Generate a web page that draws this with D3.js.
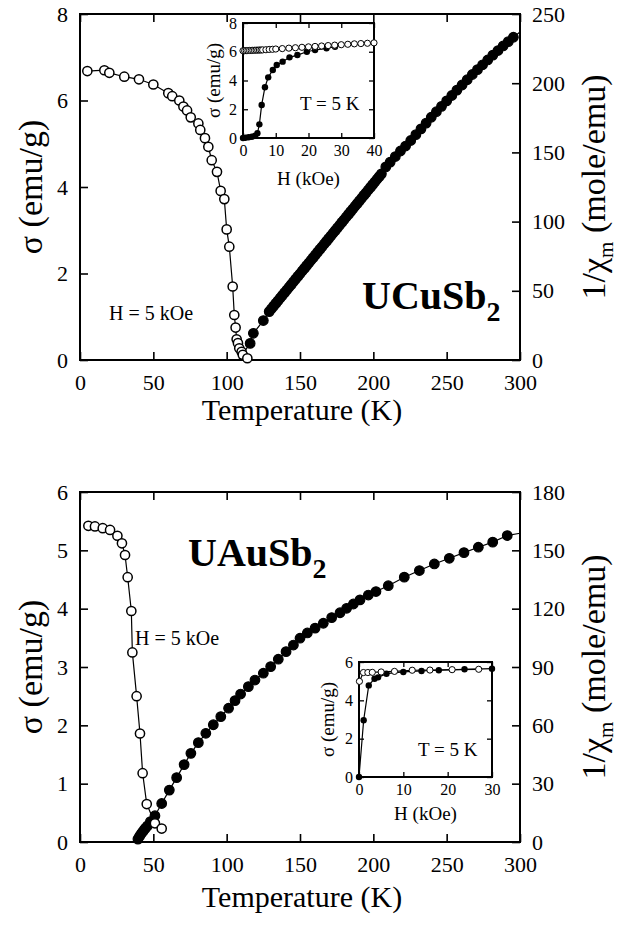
<!DOCTYPE html>
<html>
<head>
<meta charset="UTF-8">
<title>UCuSb2 / UAuSb2</title>
<script src="https://cdn.jsdelivr.net/npm/d3@7"></script>
<style>
body{margin:0;background:#fff;}
svg text{font-family:'Liberation Serif','Times New Roman',serif;fill:#000;}
.frame{fill:#fff;stroke:#000;stroke-width:2;}
.mainframe{fill:none;stroke:#000;stroke-width:2;}
.tick line{stroke:#000;stroke-width:1.6;}
.axis text{font-size:22px;}
.inset .axis text{font-size:16px;}
.inset .tick line{stroke-width:1.3;}
.fit{fill:none;stroke:#000;stroke-width:1.2;}
.big{font-size:30px;}
.ylab{font-size:34px;}
.small{font-size:19px;}
</style>
</head>
<body>
<svg id="chart" width="626" height="933"></svg>
<script>
// ---- data ----
var tempTicks = [0, 50, 100, 150, 200, 250, 300];

// UCuSb2, H = 5 kOe
var cuSigmaTicks = [0, 2, 4, 6, 8];
var cuInvTicks = [0, 50, 100, 150, 200, 250];
var cuOpenT = [5, 16.6, 20, 30.2, 40.2, 50, 60.2, 62.9, 67.7, 70.5, 73, 75.5, 80.7, 82, 85.2, 87.5, 89.8, 93.4, 95.9, 98.4, 100, 101.8, 104.1, 105.2, 106.1, 106.8, 107.7, 108.6, 110.2, 111, 114.1];
var cuOpenSigma = [6.68, 6.70, 6.64, 6.55, 6.49, 6.37, 6.17, 6.10, 6.00, 5.86, 5.77, 5.61, 5.47, 5.32, 5.13, 4.93, 4.62, 4.35, 3.91, 3.72, 3.02, 2.62, 1.70, 1.04, 0.75, 0.48, 0.39, 0.27, 0.19, 0.12, 0.04];
var cuClosedT = [116, 118.2, 125, 129, 130.5, 132, 133.5, 135, 136.5, 138, 139.5, 141, 142.5, 144, 145.5, 147, 148.5, 150, 151.5, 153, 154.5, 156, 157.5, 159, 160.5, 162, 163.5, 165, 166.5, 168, 169.5, 171, 172.5, 174, 175.5, 177, 178.5, 180, 181.5, 183, 184.5, 186, 187.5, 189, 190.5, 192, 193.5, 195, 196.5, 198, 199.5, 201, 202.5, 204, 205.5,
  208.5, 211.5, 215, 218.5, 222, 225.5, 229, 232.5, 236, 239.5, 243, 246.5, 250, 253.5, 257, 260.5, 264, 267.5, 271, 274.5, 278, 281.5, 285, 288.5, 292, 295.5];
var cuClosedInv = [12, 19.3, 28.5, 35, 37, 38.9, 40.9, 42.8, 44.8, 46.7, 48.7, 50.6, 52.6, 54.5, 56.5, 58.4, 60.4, 62.3, 64.3, 66.2, 68.2, 70.1, 72.1, 74, 76, 77.9, 79.9, 81.8, 83.8, 85.7, 87.7, 89.6, 91.6, 93.5, 95.5, 97.4, 99.4, 101.3, 103.3, 105.2, 107.2, 109.1, 111.1, 113, 115, 116.9, 118.9, 120.8, 122.8, 124.7, 126.7, 128.6, 130.6, 132.5, 134.5,
  139.5, 143, 147, 151, 154.6, 158.6, 162.8, 167, 171.2, 175.4, 179.4, 183.3, 187.2, 191.1, 195, 198.7, 202.5, 206.3, 209.8, 213.3, 216.8, 220.3, 223.6, 226.9, 230, 233.2];
var cuFitT = [108, 300];
var cuFitInv = [0, 237];

// UCuSb2 inset, T = 5 K
var cuInsetHTicks = [0, 10, 20, 30, 40];
var cuInsetSigmaTicks = [0, 2, 4, 6, 8];
var cuInsetOpenH = [0, 0.5, 1, 1.5, 2, 2.5, 3, 3.5, 4, 4.5, 5, 5.5, 6, 7, 8, 9, 10, 12, 14, 16, 18, 20, 22, 24, 26, 28, 30, 32, 34, 36, 38, 40];
var cuInsetOpenSigma = [6.07, 6.07, 6.08, 6.08, 6.09, 6.09, 6.10, 6.10, 6.11, 6.11, 6.12, 6.12, 6.13, 6.14, 6.16, 6.17, 6.19, 6.22, 6.25, 6.28, 6.31, 6.34, 6.37, 6.40, 6.43, 6.46, 6.49, 6.52, 6.55, 6.57, 6.59, 6.62];
var cuInsetClosedH = [0, 0.7, 1.7, 2.7, 3.7, 4.4, 5.0, 5.7, 6.7, 7.7, 9.1, 10.3, 12.1, 14.2, 16.6, 19.5, 22, 25.5, 28.1];
var cuInsetClosedSigma = [0, 0.02, 0.05, 0.09, 0.16, 0.33, 0.95, 2.30, 3.53, 4.22, 4.73, 5.08, 5.31, 5.61, 5.77, 6.0, 6.12, 6.24, 6.35];

// UAuSb2, H = 5 kOe
var auSigmaTicks = [0, 1, 2, 3, 4, 5, 6];
var auInvTicks = [0, 30, 60, 90, 120, 150, 180];
var auOpenT = [5.7, 10.2, 15.5, 20.5, 25.5, 28.6, 30.7, 32.5, 35, 35.7, 38.6, 40.9, 42.7, 45.5, 51.1, 55.7];
var auOpenSigma = [5.42, 5.41, 5.38, 5.35, 5.25, 5.12, 4.92, 4.54, 3.96, 3.25, 2.50, 1.86, 1.18, 0.65, 0.32, 0.23];
var auClosedT = [39.5, 40.5, 41.5, 42.5, 43.5, 44.5, 46, 48, 51.1, 55.7, 60.9, 65.9, 71, 75.6, 80.7, 85.8, 90.9, 96, 101.3, 105.7, 109.5, 114.8, 119.3, 125, 130, 135.2, 140.5, 145.5, 150, 155, 160.3, 165.9, 171.6, 177.3, 181.8, 186.4, 190.9, 196.6, 201.8, 210.2, 221.1, 231.4, 241.6, 251.8, 261.8, 271.6, 281.4, 291.3];
var auClosedInv = [1.5, 2.8, 4, 5, 6, 7, 8.3, 10.5, 13.5, 19.8, 26.7, 33.1, 39.8, 45.6, 51.1, 55.9, 60.3, 64.5, 68.8, 72.7, 76.1, 79.9, 83.3, 86.8, 90.2, 94, 97.9, 101.3, 104.8, 107.5, 110, 112.5, 115.4, 117.9, 120.2, 122.4, 124.5, 127, 128.8, 131.8, 136.2, 139.6, 143, 145.9, 148.8, 151.6, 154.2, 157.6];
var auFitT = [38.8, 300];
var auFitInv = [0, 158.8];

// UAuSb2 inset, T = 5 K
var auInsetHTicks = [0, 10, 20, 30];
var auInsetSigmaTicks = [0, 2, 4, 6];
var auInsetOpenH = [0.1, 1, 2, 3, 5, 8, 12, 16, 21, 27];
var auInsetOpenSigma = [4.99, 5.45, 5.45, 5.46, 5.48, 5.51, 5.57, 5.58, 5.60, 5.62];
var auInsetClosedH = [0, 1.05, 2.2, 3.5, 4.3, 6.2, 10, 14.1, 18, 23.8, 30];
var auInsetClosedSigma = [0, 2.96, 4.78, 5.13, 5.20, 5.39, 5.48, 5.53, 5.57, 5.62, 5.65];

var svg = d3.select("#chart");
var fmt = d3.format("~g");

function zip(a, b) {
    return a.map(function(d, i){ return [d, b[i]]; });
}

function noDomain(s) { s.select(".domain").remove(); }

function panel(o) {
    var g = svg.append("g");
    var x = d3.scaleLinear().domain([0, 300]).range([o.x0, o.x1]);
    var y = d3.scaleLinear().domain([0, o.yMax]).range([o.y1, o.y0]);
    var r = d3.scaleLinear().domain([0, o.rMax]).range([o.y1, o.y0]);

    g.append("g").attr("class", "axis").attr("transform", "translate(0," + o.y1 + ")")
        .call(d3.axisBottom(x).tickValues(tempTicks).tickFormat(fmt).tickSizeInner(-8).tickSizeOuter(0).tickPadding(14)).call(noDomain);
    g.append("g").attr("class", "axis").attr("transform", "translate(0," + o.y0 + ")")
        .call(d3.axisTop(x).tickValues(tempTicks).tickSizeInner(-8).tickSizeOuter(0).tickFormat("")).call(noDomain);
    g.append("g").attr("class", "axis").attr("transform", "translate(" + o.x0 + ",0)")
        .call(d3.axisLeft(y).tickValues(o.yTicks).tickFormat(fmt).tickSizeInner(-8).tickSizeOuter(0).tickPadding(12)).call(noDomain);
    g.append("g").attr("class", "axis").attr("transform", "translate(" + o.x1 + ",0)")
        .call(d3.axisRight(r).tickValues(o.rTicks).tickFormat(fmt).tickSizeInner(-8).tickSizeOuter(0).tickPadding(12)).call(noDomain);

    g.append("rect").attr("class", "mainframe")
        .attr("x", o.x0).attr("y", o.y0).attr("width", o.x1 - o.x0).attr("height", o.y1 - o.y0);

    // fitted lines under the markers
    var lo = d3.line().x(function(d){ return x(d[0]); }).y(function(d){ return y(d[1]); });
    var lc = d3.line().x(function(d){ return x(d[0]); }).y(function(d){ return r(d[1]); });
    var closed = zip(o.closedT, o.closedV);
    var fitPts = [[o.fitT[0], o.fitV[0]]].concat(closed).concat([[o.fitT[1], o.fitV[1]]]);
    g.append("path").attr("class", "fit").attr("d", lc(fitPts));
    g.append("path").attr("class", "fit").attr("d", lo(zip(o.openT, o.openV)));

    g.selectAll(".cl").data(closed).enter().append("circle")
        .attr("cx", function(d){ return x(d[0]); }).attr("cy", function(d){ return r(d[1]); })
        .attr("r", 4.8).attr("fill", "#000").attr("stroke", "#000").attr("stroke-width", 1.2);
    g.selectAll(".op").data(zip(o.openT, o.openV)).enter().append("circle")
        .attr("cx", function(d){ return x(d[0]); }).attr("cy", function(d){ return y(d[1]); })
        .attr("r", 4.6).attr("fill", "#fff").attr("stroke", "#000").attr("stroke-width", 1.5);

    var cy = (o.y0 + o.y1) / 2;
    g.append("text").attr("class", "ylab").attr("text-anchor", "middle")
        .attr("transform", "translate(42," + cy + ") rotate(-90)").text("σ (emu/g)");
    var rl = g.append("text").attr("class", "ylab").attr("text-anchor", "middle")
        .attr("transform", "translate(605," + cy + ") rotate(-90)");
    rl.append("tspan").text("1/χ");
    rl.append("tspan").attr("dy", 8).attr("font-size", 21).text("m");
    rl.append("tspan").attr("dy", -8).text(" (mole/emu)");
    g.append("text").attr("class", "big").attr("text-anchor", "middle")
        .attr("x", 302).attr("y", o.xLabelY).text("Temperature (K)");

    g.append("text").style("font-size", "20px")
        .attr("x", o.hx).attr("y", o.hy).text("H = 5 kOe");
    var nm = g.append("text").attr("x", o.nx).attr("y", o.ny)
        .style("font-size", "40px").style("font-weight", "bold");
    nm.append("tspan").text(o.name);
    nm.append("tspan").attr("dy", 12).style("font-size", "28px").text("2");
}

function inset(o) {
    var g = svg.append("g").attr("class", "inset");
    var x = d3.scaleLinear().domain([0, o.hMax]).range([o.x0, o.x1]);
    var y = d3.scaleLinear().domain([0, o.sMax]).range([o.y1, o.y0]);
    g.append("rect").attr("class", "frame")
        .attr("x", o.x0).attr("y", o.y0).attr("width", o.x1 - o.x0).attr("height", o.y1 - o.y0);
    g.append("g").attr("class", "axis").attr("transform", "translate(0," + o.y1 + ")")
        .call(d3.axisBottom(x).tickValues(o.hTicks).tickFormat(fmt).tickSizeInner(-5).tickSizeOuter(0).tickPadding(7)).call(noDomain);
    g.append("g").attr("class", "axis").attr("transform", "translate(0," + o.y0 + ")")
        .call(d3.axisTop(x).tickValues(o.hTicks).tickSizeInner(-5).tickSizeOuter(0).tickFormat("")).call(noDomain);
    g.append("g").attr("class", "axis").attr("transform", "translate(" + o.x0 + ",0)")
        .call(d3.axisLeft(y).tickValues(o.sTicks).tickFormat(fmt).tickSizeInner(-5).tickSizeOuter(0).tickPadding(6)).call(noDomain);
    g.append("g").attr("class", "axis").attr("transform", "translate(" + o.x1 + ",0)")
        .call(d3.axisRight(y).tickValues(o.sTicks).tickSizeInner(-5).tickSizeOuter(0).tickFormat("")).call(noDomain);
    g.append("rect").attr("class", "mainframe")
        .attr("x", o.x0).attr("y", o.y0).attr("width", o.x1 - o.x0).attr("height", o.y1 - o.y0);

    var ln = d3.line().x(function(d){ return x(d[0]); }).y(function(d){ return y(d[1]); });
    var op = zip(o.openH, o.openS), cl = zip(o.closedH, o.closedS);
    g.append("path").attr("class", "fit").attr("d", ln(cl));
    g.append("path").attr("class", "fit").attr("d", ln(op));
    g.selectAll(".cl").data(cl).enter().append("circle")
        .attr("cx", function(d){ return x(d[0]); }).attr("cy", function(d){ return y(d[1]); })
        .attr("r", 3.2).attr("fill", "#000");
    g.selectAll(".op").data(op).enter().append("circle")
        .attr("cx", function(d){ return x(d[0]); }).attr("cy", function(d){ return y(d[1]); })
        .attr("r", 3.1).attr("fill", "#fff").attr("stroke", "#000").attr("stroke-width", 1);

    g.append("text").attr("class", "small").attr("text-anchor", "middle")
        .attr("transform", "translate(" + o.syx + "," + ((o.y0 + o.y1) / 2) + ") rotate(-90)").text("σ (emu/g)");
    g.append("text").attr("class", "small").attr("text-anchor", "middle")
        .attr("x", (o.x0 + o.x1) / 2).attr("y", o.hLabelY).text("H (kOe)");
    g.append("text").attr("class", "small").attr("x", o.tx).attr("y", o.ty).text("T = 5 K");
}

panel({x0: 80, x1: 520, y0: 14, y1: 360, yMax: 8, yTicks: cuSigmaTicks, rMax: 250, rTicks: cuInvTicks,
    openT: cuOpenT, openV: cuOpenSigma, closedT: cuClosedT, closedV: cuClosedInv, fitT: cuFitT, fitV: cuFitInv,
    xLabelY: 420, hx: 109, hy: 320, name: "UCuSb", nx: 362, ny: 309});
inset({x0: 243, x1: 374, y0: 23, y1: 138, hMax: 40, sMax: 8, hTicks: cuInsetHTicks, sTicks: cuInsetSigmaTicks,
    openH: cuInsetOpenH, openS: cuInsetOpenSigma, closedH: cuInsetClosedH, closedS: cuInsetClosedSigma,
    syx: 220, hLabelY: 185, tx: 300, ty: 110});

panel({x0: 80, x1: 520, y0: 492, y1: 842, yMax: 6, yTicks: auSigmaTicks, rMax: 180, rTicks: auInvTicks,
    openT: auOpenT, openV: auOpenSigma, closedT: auClosedT, closedV: auClosedInv, fitT: auFitT, fitV: auFitInv,
    xLabelY: 907, hx: 135, hy: 645, name: "UAuSb", nx: 188, ny: 566});
inset({x0: 359, x1: 492, y0: 662, y1: 777, hMax: 30, sMax: 6, hTicks: auInsetHTicks, sTicks: auInsetSigmaTicks,
    openH: auInsetOpenH, openS: auInsetOpenSigma, closedH: auInsetClosedH, closedS: auInsetClosedSigma,
    syx: 334, hLabelY: 820, tx: 418, ty: 756});
</script>
</body>
</html>
